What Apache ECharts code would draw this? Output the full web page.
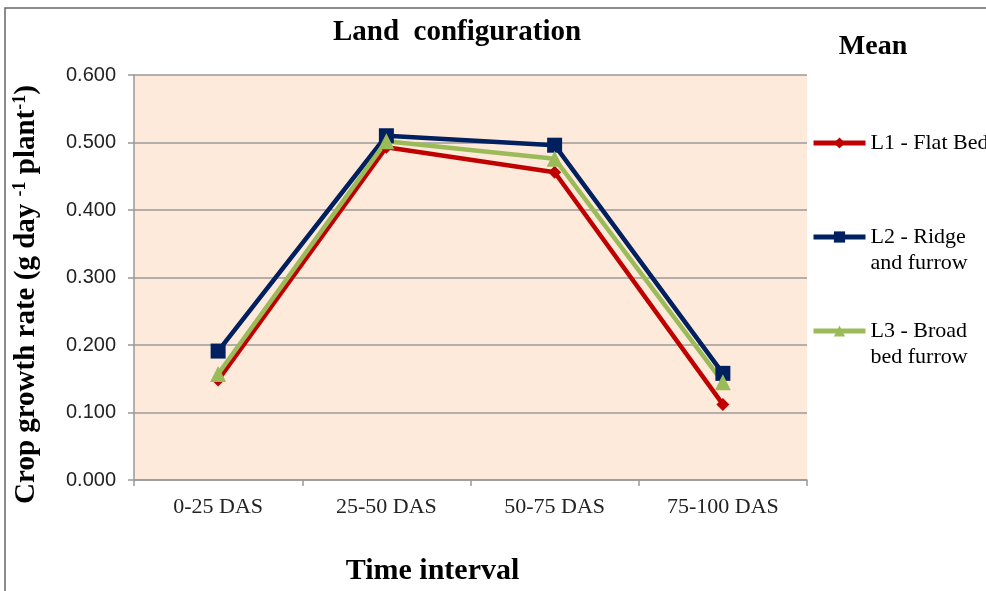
<!DOCTYPE html>
<html>
<head>
<meta charset="utf-8">
<script src="https://cdn.jsdelivr.net/npm/echarts@6/dist/echarts.min.js"></script>
<style>
html,body{margin:0;padding:0;background:#fff;}
#c{width:986px;height:591px;}
</style>
</head>
<body>
<div id="c"></div>
<script>
var categories = ['0-25 DAS', '25-50 DAS', '50-75 DAS', '75-100 DAS'];
var yTicks = [0, 0.1, 0.2, 0.3, 0.4, 0.5, 0.6];
var seriesNames = ['L1 - Flat Bed', 'L2 - Ridge and furrow', 'L3 - Broad bed furrow'];
var l1Values = [0.148, 0.493, 0.456, 0.112];
var l2Values = [0.191, 0.510, 0.496, 0.158];
var l3Values = [0.157, 0.502, 0.476, 0.145];

var serif = '"Liberation Serif", "Times New Roman", serif';
var sans = '"Liberation Sans", Arial, sans-serif';
var colors = ['#C00000', '#002060', '#9BBB59'];
var symbols = ['diamond', 'rect', 'triangle'];
var sizes = [13, 15, 16];
var values = [l1Values, l2Values, l3Values];
var legendTexts = [
  'L1 - Flat Bed',
  '\u00a0\nL2 - Ridge\nand furrow',
  '\u00a0\nL3 - Broad\nbed furrow'
];
var legendTops = [130, 198, 292];

var chart = echarts.init(document.getElementById('c'));
var option = {
  animation: false,
  backgroundColor: '#fff',
  title: [{
    text: 'Land  configuration',
    left: 452, top: 13, textAlign: 'center',
    textStyle: {fontFamily: serif, fontWeight: 'bold', fontSize: 29, color: '#000'}
  }, {
    text: 'Mean',
    left: 868, top: 28, textAlign: 'center',
    textStyle: {fontFamily: serif, fontWeight: 'bold', fontSize: 28, color: '#000'}
  }],
  graphic: [{
    type: 'rect', shape: {x: 5, y: 8, width: 1100, height: 700},
    style: {fill: 'none', stroke: '#666', lineWidth: 1.5}, silent: true, z: -10
  }],
  legend: seriesNames.map(function (n, i) {
    return {
      data: [n],
      left: 811, top: legendTops[i],
      padding: 0,
      orient: 'vertical',
      itemWidth: 52, itemHeight: 14,
      lineStyle: {width: 5},
      formatter: function () { return legendTexts[i]; },
      textStyle: {fontFamily: serif, fontSize: 22, color: '#000', lineHeight: 26}
    };
  }),
  grid: {
    left: 134, right: 179, top: 75, bottom: 110,
    show: true, backgroundColor: '#FDEADA', borderWidth: 0
  },
  xAxis: {
    type: 'category',
    data: categories,
    boundaryGap: true,
    name: 'Time interval',
    nameLocation: 'middle',
    nameGap: 76,
    nameTextStyle: {fontFamily: serif, fontWeight: 'bold', fontSize: 30, color: '#000', padding: [0, 76, 0, 0]},
    axisLine: {lineStyle: {color: '#999', width: 1.5}},
    axisTick: {show: true, interval: 0, length: 6, lineStyle: {color: '#999', width: 1.5}},
    axisLabel: {fontFamily: serif, fontSize: 22, color: '#222', margin: 16, interval: 0},
    splitLine: {show: false}
  },
  yAxis: {
    type: 'value',
    min: yTicks[0], max: yTicks[yTicks.length - 1], interval: 0.1,
    name: 'Crop growth rate (g day {sup|-1} plant{sup|-1})',
    nameLocation: 'middle',
    nameRotate: 90,
    nameGap: 92,
    nameTextStyle: {fontFamily: serif, fontWeight: 'bold', fontSize: 29, color: '#000',
      lineHeight: 31, padding: [0, 34, 0, 0],
      rich: {sup: {fontFamily: serif, fontWeight: 'bold', fontSize: 18, color: '#000',
        lineHeight: 31, verticalAlign: 'top', padding: [0, 0, 8, 0]}}},
    axisLine: {show: true, lineStyle: {color: '#999', width: 1.5}},
    axisTick: {show: true, length: 6, lineStyle: {color: '#999', width: 1.5}},
    axisLabel: {fontFamily: sans, fontSize: 20, color: '#222', margin: 18,
      formatter: function (v) { return v.toFixed(3); }},
    splitLine: {show: true, lineStyle: {color: '#9a9a9a', width: 1.5}}
  },
  series: seriesNames.map(function (n, i) {
    return {
      name: n,
      type: 'line',
      data: values[i],
      symbol: symbols[i],
      symbolSize: sizes[i],
      showAllSymbol: true,
      lineStyle: {color: colors[i], width: 4.5},
      itemStyle: {color: colors[i]}
    };
  })
};
chart.setOption(option);
</script>
</body>
</html>
